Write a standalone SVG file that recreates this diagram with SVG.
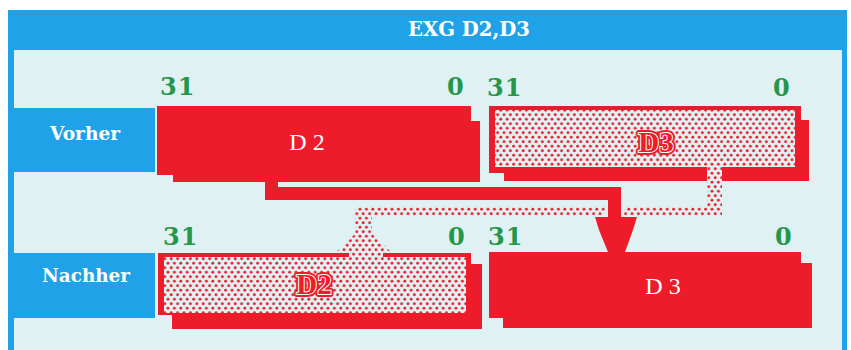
<svg xmlns="http://www.w3.org/2000/svg" width="851" height="350" viewBox="0 0 851 350">
<defs>
<pattern id="dots" patternUnits="userSpaceOnUse" width="6.4" height="9" x="0" y="0">
<rect width="6.4" height="9" fill="#dff1f3"/>
<circle cx="1.6" cy="2.25" r="1.4" fill="#ee1c2a"/>
<circle cx="4.8" cy="6.75" r="1.4" fill="#ee1c2a"/>
</pattern>
<style>
.red{fill:#ee1c2a}
.dot{fill:url(#dots)}
.num{font-family:"DejaVu Serif",serif;font-weight:bold;font-size:24px;fill:#24974a;letter-spacing:1px}
.lab{font-family:"DejaVu Serif",serif;font-weight:bold;font-size:19px;fill:#ffffff;text-anchor:middle}
.wl{font-family:"Liberation Serif",serif;font-size:24px;fill:#ffffff;text-anchor:middle}
.ol{font-family:"Liberation Serif",serif;font-weight:bold;font-size:29px;text-anchor:middle}
</style>
</defs>
<rect width="851" height="350" fill="#ffffff"/>
<g id="frame">
<rect x="8" y="10" width="839" height="345" fill="#20a2e8"/>
<rect x="14" y="50" width="828" height="305" fill="#dff1f3"/>
<text x="469" y="36" font-family="DejaVu Serif, serif" font-weight="bold" font-size="20" fill="#ffffff" text-anchor="middle" textLength="122" lengthAdjust="spacingAndGlyphs">EXG D2,D3</text>
</g>
<g id="vorher">
<rect x="8" y="108" width="147" height="64" fill="#20a2e8"/>
<text class="lab" x="85" y="140" textLength="70" lengthAdjust="spacingAndGlyphs">Vorher</text>
</g>
<g id="nachher">
<rect x="8" y="253" width="147" height="65" fill="#20a2e8"/>
<text class="lab" x="86" y="282" textLength="88" lengthAdjust="spacingAndGlyphs">Nachher</text>
</g>
<g id="connectors">
<path class="red" d="M265,175 H278 V187 H621 V200 H265 Z"/>
<rect class="dot" x="707" y="167" width="15" height="49"/>
<rect class="dot" x="355" y="207" width="367" height="9"/>
<rect class="dot" x="355" y="207" width="17" height="30"/>
<polygon class="dot" points="355,234 372,234 390,251 383,257 348,257 337,251"/>
<rect x="605" y="200" width="19" height="17" fill="#dff1f3"/>
<rect class="red" x="608" y="187" width="13" height="32"/>
<polygon class="red" points="595,217 637,217 633,230 625,252 608,252 599,230"/>
</g>
<g id="vorher-d2">
<rect class="red" x="157" y="106" width="314" height="69"/>
<rect class="red" x="173" y="121" width="307" height="61"/>
<text class="wl" x="307" y="150">D 2</text>
<text class="num" x="160" y="95">31</text>
<text class="num" x="447" y="95">0</text>
</g>
<g id="vorher-d3">
<rect class="red" x="489" y="106" width="312" height="67"/>
<rect class="red" x="504" y="120" width="305" height="61"/>
<rect class="dot" x="495" y="110" width="300" height="57"/>
<rect class="dot" x="707" y="167" width="15" height="15"/>
<text class="ol" x="656" y="152" fill="#ee1c2a" stroke="#ee1c2a" stroke-width="6" stroke-linejoin="round">D3</text>
<text class="ol" x="656" y="152" fill="#ee1c2a" stroke="#ffffff" stroke-width="2" paint-order="stroke">D3</text>
<text class="num" x="487" y="96">31</text>
<text class="num" x="773" y="96">0</text>
</g>
<g id="nachher-d2">
<rect class="red" x="158" y="253" width="313" height="62"/>
<rect class="red" x="172" y="264" width="310" height="65"/>
<rect class="dot" x="164" y="257" width="302" height="56"/>
<polygon class="dot" points="349,250 383,250 383,258 349,258"/>
<text class="ol" x="314" y="294" fill="#ee1c2a" stroke="#ee1c2a" stroke-width="6" stroke-linejoin="round">D2</text>
<text class="ol" x="314" y="294" fill="#ee1c2a" stroke="#ffffff" stroke-width="2" paint-order="stroke">D2</text>
<text class="num" x="163" y="245">31</text>
<text class="num" x="448" y="245">0</text>
</g>
<g id="nachher-d3">
<rect class="red" x="489" y="252" width="312" height="66"/>
<rect class="red" x="503" y="263" width="309" height="65"/>
<text class="wl" x="663" y="294">D 3</text>
<text class="num" x="488" y="245">31</text>
<text class="num" x="775" y="245">0</text>
</g>
</svg>
